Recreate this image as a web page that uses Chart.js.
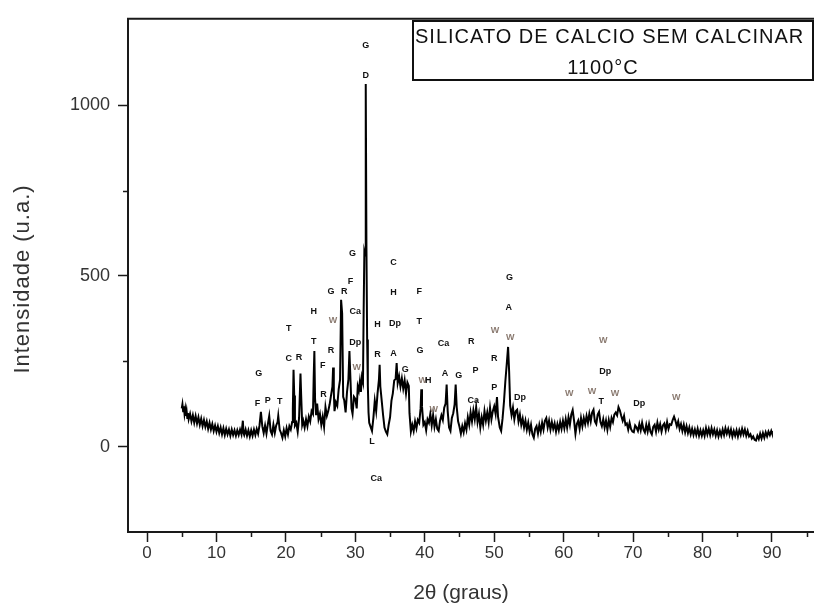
<!DOCTYPE html>
<html>
<head>
<meta charset="utf-8">
<script src="https://cdn.jsdelivr.net/npm/chart.js@4/dist/chart.umd.min.js"></script>
<style>
  html, body { margin: 0; padding: 0; background: #fff; }
  #wrap { width: 814px; height: 604px; overflow: hidden; position: relative; }
  canvas { display: block; }
</style>
</head>
<body>
<div id="wrap"><canvas id="xrd" width="830" height="604"></canvas></div>
<script>
// diffractogram, [2theta, intensity]
const scan = [
  [5.0,112],[5.1,124],[5.2,104],[5.3,118],[5.4,96],[5.5,110],[5.6,90],[5.7,104],[5.8,84],[5.9,98],
  [6.0,80],[6.2,96],[6.4,74],[6.6,92],[6.8,70],[7.0,90],[7.2,68],[7.4,86],[7.6,64],[7.8,82],
  [8.0,60],[8.2,78],[8.4,58],[8.6,74],[8.8,52],[9.0,70],[9.2,50],[9.4,66],[9.6,46],[9.8,62],
  [10.0,44],[10.2,60],[10.4,40],[10.6,56],[10.8,36],[11.0,54],[11.2,34],[11.4,52],[11.6,36],[11.8,50],
  [12.0,32],[12.2,50],[12.4,34],[12.6,48],[12.8,32],[13.0,48],[13.2,34],[13.4,50],[13.6,36],[13.8,76],
  [13.9,40],[14.0,34],[14.2,50],[14.4,32],[14.6,48],[14.8,30],[15.0,48],[15.2,32],[15.4,50],[15.6,34],
  [15.8,52],[16.0,38],[16.2,62],[16.4,102],[16.6,60],[16.8,40],[17.0,62],[17.2,38],[17.4,66],[17.6,90],
  [17.8,46],[18.0,36],[18.2,64],[18.4,40],[18.6,62],[18.8,72],[18.9,90],[19.1,50],[19.3,40],[19.5,26],
  [19.7,48],[19.9,30],[20.1,54],[20.3,36],[20.5,60],[20.7,50],[20.9,72],[21.0,110],[21.1,225],[21.2,150],
  [21.3,62],[21.5,70],[21.7,44],[21.9,84],[22.1,214],[22.2,150],[22.35,64],[22.5,76],[22.7,56],[22.9,80],
  [23.1,60],[23.3,88],[23.5,74],[23.7,104],[23.9,96],[24.0,200],[24.1,280],[24.2,140],[24.35,92],[24.5,126],
  [24.7,80],[24.9,96],[25.1,64],[25.3,88],[25.5,58],[25.7,116],[25.9,90],[26.1,104],[26.3,124],[26.5,150],
  [26.7,176],[26.8,232],[26.9,160],[27.0,104],[27.2,130],[27.4,120],[27.6,168],[27.8,196],[27.95,430],[28.1,390],
  [28.25,146],[28.4,136],[28.6,100],[28.8,160],[29.0,196],[29.15,280],[29.3,196],[29.45,112],[29.6,96],[29.8,146],
  [30.0,140],[30.2,112],[30.35,176],[30.5,164],[30.65,190],[30.8,160],[30.95,204],[31.1,190],[31.2,400],[31.3,570],
  [31.4,560],[31.5,1062],[31.6,580],[31.7,314],[31.8,180],[31.9,100],[32.0,70],[32.2,58],[32.4,46],[32.6,84],
  [32.8,134],[33.0,104],[33.2,156],[33.4,196],[33.5,240],[33.6,176],[33.8,134],[34.0,92],[34.2,56],[34.4,44],
  [34.6,36],[34.8,64],[35.0,86],[35.2,134],[35.4,156],[35.6,194],[35.8,198],[35.95,245],[36.1,186],[36.3,206],
  [36.5,176],[36.7,200],[36.9,170],[37.1,194],[37.3,156],[37.5,188],[37.7,178],[37.8,98],[38.0,44],[38.2,64],
  [38.4,46],[38.6,74],[38.8,54],[39.0,78],[39.2,70],[39.4,112],[39.5,168],[39.6,118],[39.8,64],[40.0,72],
  [40.2,48],[40.4,80],[40.6,70],[40.8,96],[41.0,62],[41.2,92],[41.4,58],[41.6,80],[41.8,52],[42.0,46],
  [42.2,76],[42.4,92],[42.6,78],[42.8,114],[43.0,126],[43.15,182],[43.3,104],[43.5,56],[43.7,46],[43.9,84],
  [44.1,98],[44.3,124],[44.45,182],[44.6,116],[44.8,74],[45.0,58],[45.2,38],[45.4,60],[45.6,42],[45.8,68],
  [46.0,50],[46.2,86],[46.4,64],[46.6,100],[46.8,74],[47.0,106],[47.2,80],[47.4,116],[47.6,72],[47.8,96],
  [48.0,56],[48.2,86],[48.4,64],[48.6,104],[48.8,76],[49.0,100],[49.2,72],[49.4,114],[49.6,80],[49.8,104],
  [50.0,118],[50.2,96],[50.4,145],[50.55,88],[50.8,56],[51.0,46],[51.2,82],[51.4,130],[51.6,190],[51.8,240],
  [52.0,292],[52.15,220],[52.3,120],[52.5,92],[52.7,114],[52.9,80],[53.1,104],[53.3,108],[53.5,74],[53.7,94],
  [53.9,64],[54.1,82],[54.3,56],[54.5,76],[54.7,50],[54.9,70],[55.1,44],[55.3,64],[55.5,36],[55.7,26],
  [55.9,52],[56.1,60],[56.3,38],[56.5,64],[56.7,44],[56.9,70],[57.1,50],[57.3,76],[57.5,84],[57.7,56],
  [57.9,76],[58.1,50],[58.3,72],[58.5,52],[58.7,68],[58.9,44],[59.1,66],[59.3,48],[59.5,72],[59.7,52],
  [59.9,76],[60.1,54],[60.3,80],[60.5,56],[60.7,86],[60.9,64],[61.1,94],[61.3,107],[61.5,76],[61.7,38],
  [61.9,66],[62.1,76],[62.3,52],[62.5,84],[62.7,60],[62.9,84],[63.1,66],[63.3,90],[63.5,70],[63.7,96],
  [63.9,74],[64.1,100],[64.3,108],[64.5,74],[64.7,66],[64.9,94],[65.1,102],[65.3,72],[65.5,60],[65.7,80],
  [65.9,56],[66.1,76],[66.3,50],[66.5,78],[66.7,58],[66.9,84],[67.1,72],[67.3,94],[67.5,100],[67.7,92],
  [67.9,116],[68.1,106],[68.3,90],[68.5,76],[68.7,90],[68.9,64],[69.1,68],[69.3,50],[69.5,70],[69.7,52],
  [69.9,44],[70.1,42],[70.3,62],[70.5,56],[70.7,46],[70.9,66],[71.1,48],[71.3,70],[71.5,50],[71.7,42],
  [71.9,64],[72.1,44],[72.3,66],[72.5,44],[72.7,36],[72.9,58],[73.1,64],[73.3,44],[73.5,70],[73.7,50],
  [73.9,66],[74.1,44],[74.3,62],[74.5,68],[74.7,48],[74.9,72],[75.1,52],[75.3,66],[75.5,64],[75.7,78],
  [75.9,88],[76.1,76],[76.3,60],[76.5,74],[76.7,52],[76.9,66],[77.1,46],[77.3,64],[77.5,42],[77.7,60],
  [77.9,40],[78.1,56],[78.3,36],[78.5,52],[78.7,34],[78.9,50],[79.1,34],[79.3,52],[79.5,32],[79.7,48],
  [79.9,32],[80.1,48],[80.3,32],[80.5,54],[80.7,36],[80.9,52],[81.1,34],[81.3,54],[81.5,36],[81.7,50],
  [81.9,32],[82.1,48],[82.3,30],[82.5,46],[82.7,32],[82.9,50],[83.1,34],[83.3,54],[83.5,38],[83.7,52],
  [83.9,34],[84.1,50],[84.3,30],[84.5,46],[84.7,32],[84.9,48],[85.1,30],[85.3,48],[85.5,34],[85.7,52],
  [85.9,36],[86.1,50],[86.3,32],[86.5,46],[86.7,30],[86.9,36],[87.1,24],[87.3,30],[87.5,20],[87.7,18],
  [87.9,32],[88.1,22],[88.3,38],[88.5,24],[88.7,40],[88.9,26],[89.1,42],[89.3,30],[89.5,44],[89.7,34],
  [89.9,46],[90.0,40]
];

// phase markers over the peaks
const markText = ['G','F','P','T','T','C','R','H','T','F','R','W','R','G','R','F','G','Ca','Dp','W',
  'G','D','L','Ca','H','R','C','H','Dp','A','G','F','T','G','W','H','W','Ca','A','G',
  'R','P','Ca','W','R','P','G','A','W','Dp','W','W','T','W','Dp','W','Dp','W'];
const markX = [16.1,15.9,17.4,19.1,20.4,20.4,21.9,24.0,24.0,25.3,25.4,26.8,26.5,26.5,28.4,29.3,29.6,30.0,30.0,30.2,
  31.5,31.5,32.4,33.0,33.2,33.2,35.5,35.5,35.7,35.5,37.2,39.2,39.2,39.3,39.7,40.5,41.3,42.7,42.9,44.9,
  46.7,47.3,47.0,50.1,50.0,50.0,52.2,52.1,52.3,53.7,60.8,64.1,65.4,65.7,66.0,67.4,70.9,76.2];
const markY = [213,127,136,132,347,258,262,395,308,238,153,368,282,455,455,485,565,395,306,233,
  1175,1088,15,-94,358,271,539,451,361,274,226,453,366,281,194,194,110,301,214,209,
  308,223,134,339,258,172,495,407,320,143,155,161,132,310,219,155,126,145];

const xMajor = [0, 10, 20, 30, 40, 50, 60, 70, 80, 90];
const xMinor = [5, 15, 25, 35, 45, 55, 65, 75, 85, 95];
const yMajor = [0, 500, 1000];
const yMinor = [250, 750];

const legendLines = ['SILICATO DE CALCIO SEM CALCINAR', '1100°C'];

const axisColor = '#1a1a1a';
const textColor = '#333';

const extras = {
  id: 'extras',
  afterDraw(chart) {
    const { ctx, chartArea, scales } = chart;
    const x = scales.x, y = scales.y;
    ctx.save();
    // top frame line
    ctx.strokeStyle = axisColor;
    ctx.lineWidth = 2;
    ctx.beginPath();
    ctx.moveTo(chartArea.left - 1, chartArea.top);
    ctx.lineTo(chartArea.right, chartArea.top);
    ctx.stroke();

    // minor ticks
    ctx.lineWidth = 1.5;
    ctx.beginPath();
    xMinor.forEach(v => {
      const px = Math.round(x.getPixelForValue(v)) + 0.5;
      ctx.moveTo(px, chartArea.bottom);
      ctx.lineTo(px, chartArea.bottom + 5);
    });
    yMinor.forEach(v => {
      const py = Math.round(y.getPixelForValue(v)) + 0.5;
      ctx.moveTo(chartArea.left, py);
      ctx.lineTo(chartArea.left - 5, py);
    });
    ctx.stroke();

    // axis titles
    ctx.fillStyle = textColor;
    ctx.textAlign = 'center';
    ctx.textBaseline = 'middle';
    ctx.font = '21px "Liberation Sans", Arial, sans-serif';
    ctx.fillText('2θ (graus)', 461, 593);
    ctx.save();
    ctx.translate(23, 279);
    ctx.rotate(-Math.PI / 2);
    ctx.font = '22px "Liberation Sans", Arial, sans-serif';
    ctx.letterSpacing = '1px';
    ctx.fillText('Intensidade (u.a.)', 0, 0);
    ctx.restore();

    // sample box
    ctx.strokeStyle = '#111';
    ctx.lineWidth = 2;
    ctx.strokeRect(413, 21, 400, 59);
    ctx.fillStyle = '#111';
    ctx.font = '20px "Liberation Sans", Arial, sans-serif';
    ctx.letterSpacing = '1px';
    ctx.textAlign = 'left';
    ctx.fillText(legendLines[0], 415, 37);
    ctx.textAlign = 'center';
    ctx.fillText(legendLines[1], 603, 68);
    ctx.letterSpacing = '0px';

    // phase markers
    ctx.font = 'bold 9px "Liberation Sans", Arial, sans-serif';
    ctx.textAlign = 'center';
    ctx.textBaseline = 'middle';
    markText.forEach((t, i) => {
      ctx.fillStyle = t === 'W' ? '#8a7a70' : '#111';
      ctx.fillText(t, x.getPixelForValue(markX[i]), y.getPixelForValue(markY[i]));
    });
    ctx.restore();
  }
};

new Chart(document.getElementById('xrd'), {
  type: 'line',
  data: {
    datasets: [{
      data: scan.map(([a, c]) => ({ x: a, y: c })),
      borderColor: '#000',
      borderWidth: 2,
      pointRadius: 0,
      tension: 0,
      fill: false
    }]
  },
  options: {
    responsive: false,
    animation: false,
    devicePixelRatio: 1,
    layout: { padding: { top: 15, left: 0, right: 0, bottom: 0 } },
    plugins: { legend: { display: false }, tooltip: { enabled: false } },
    scales: {
      x: {
        type: 'linear',
        min: -2.74,
        max: 98.36,
        afterBuildTicks: s => { s.ticks = xMajor.map(v => ({ value: v })); },
        afterFit: s => { s.height = 72; },
        grid: { drawOnChartArea: false, tickLength: 10, tickColor: axisColor, tickWidth: 1.5 },
        border: { color: axisColor, width: 2 },
        ticks: {
          maxRotation: 0,
          padding: 1,
          color: textColor,
          callback: v => String(v),
          font: { family: '"Liberation Sans", Arial, sans-serif', size: 17 }
        }
      },
      y: {
        min: -250,
        max: 1253,
        afterBuildTicks: s => { s.ticks = yMajor.map(v => ({ value: v })); },
        afterFit: s => { s.width = 128; },
        grid: { drawOnChartArea: false, tickLength: 10, tickColor: axisColor, tickWidth: 1.5 },
        border: { color: axisColor, width: 2 },
        ticks: {
          padding: 8,
          color: textColor,
          callback: v => String(v),
          font: { family: '"Liberation Sans", Arial, sans-serif', size: 18 }
        }
      }
    }
  },
  plugins: [extras]
});
</script>
</body>
</html>
